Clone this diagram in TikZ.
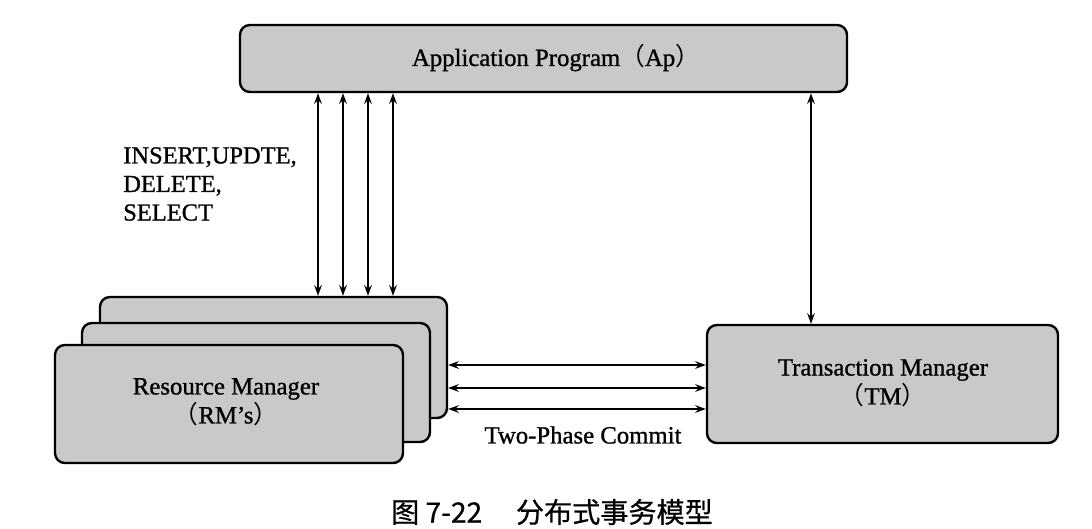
\documentclass[tikz,border=0pt]{standalone}
\usepackage{fontspec}
\setmainfont{Liberation Serif}[FakeBold=1.0]
\newfontfamily\cjk{Noto Sans CJK SC}
\newfontfamily\cjkbold{Noto Sans CJK SC}[FakeBold=0.6]
\newcommand{\lp}{{\cjk （}}
\newcommand{\rp}{{\cjk ）}}
\usetikzlibrary{arrows.meta,fit}
\begin{document}
\begin{tikzpicture}[x=0.025cm,y=-0.025cm,
  boxstyle/.style={draw=black,line width=1.7pt,rounded corners=7pt,fill=black!21,inner sep=0pt},
  lbl/.style={font=\fontsize{17.6}{20.6}\selectfont,inner sep=0pt,align=center},
  conn/.style={line width=1.1pt,{Stealth[length=7.5pt,width=5.4pt]}-{Stealth[length=7.5pt,width=5.4pt]}}]
\useasboundingbox (0,0) rectangle (1092,528);
% boxes
\node[boxstyle,fit={(240,25) (847,92)}] (ap) {};
\node[boxstyle,fit={(100,297) (447,418)}] (rm3) {};
\node[boxstyle,fit={(82,323) (430,442)}] (rm2) {};
\node[boxstyle,fit={(55,345) (403,463)}] (rm1) {};
\node[boxstyle,fit={(707,325) (1058,443)}] (tm) {};
% texts
\node[lbl] (aptxt) at (556,58) {Application Program\lp Ap\rp};
\node[lbl] (rmtxt) at (226,402) {Resource Manager\\\lp RM’s\rp};
\node[lbl] (tmtxt) at (883,383) {Transaction Manager\\\lp TM\rp};
\node[lbl,align=left,anchor=west,font=\fontsize{17.4}{20.3}\selectfont] (ops) at (123,184) {INSERT,UPDTE,\\DELETE,\\SELECT};
\node[lbl] (tpc) at (583,435) {Two-Phase Commit};
\node[inner sep=0pt,font=\cjkbold\fontsize{20}{24}\selectfont] (cap) at (552,512) {图 7-22\hspace{1.2em}分布式事务模型};
% coordinates for connector columns
\coordinate (c1) at (318,0);
\coordinate (c2) at (343,0);
\coordinate (c3) at (368,0);
\coordinate (c4) at (393,0);
\coordinate (c5) at (811,0);
\coordinate (h1) at (0,365);
\coordinate (h2) at (0,388);
\coordinate (h3) at (0,409);
% connectors
\foreach \c in {c1,c2,c3,c4}{
  \draw[conn] (ap.south -| \c) -- (rm3.north -| \c);
}
\draw[conn] (ap.south -| c5) -- (tm.north -| c5);
\foreach \h in {h1,h2,h3}{
  \draw[conn] (rm3.east |- \h) -- (tm.west |- \h);
}
\end{tikzpicture}
\end{document}
